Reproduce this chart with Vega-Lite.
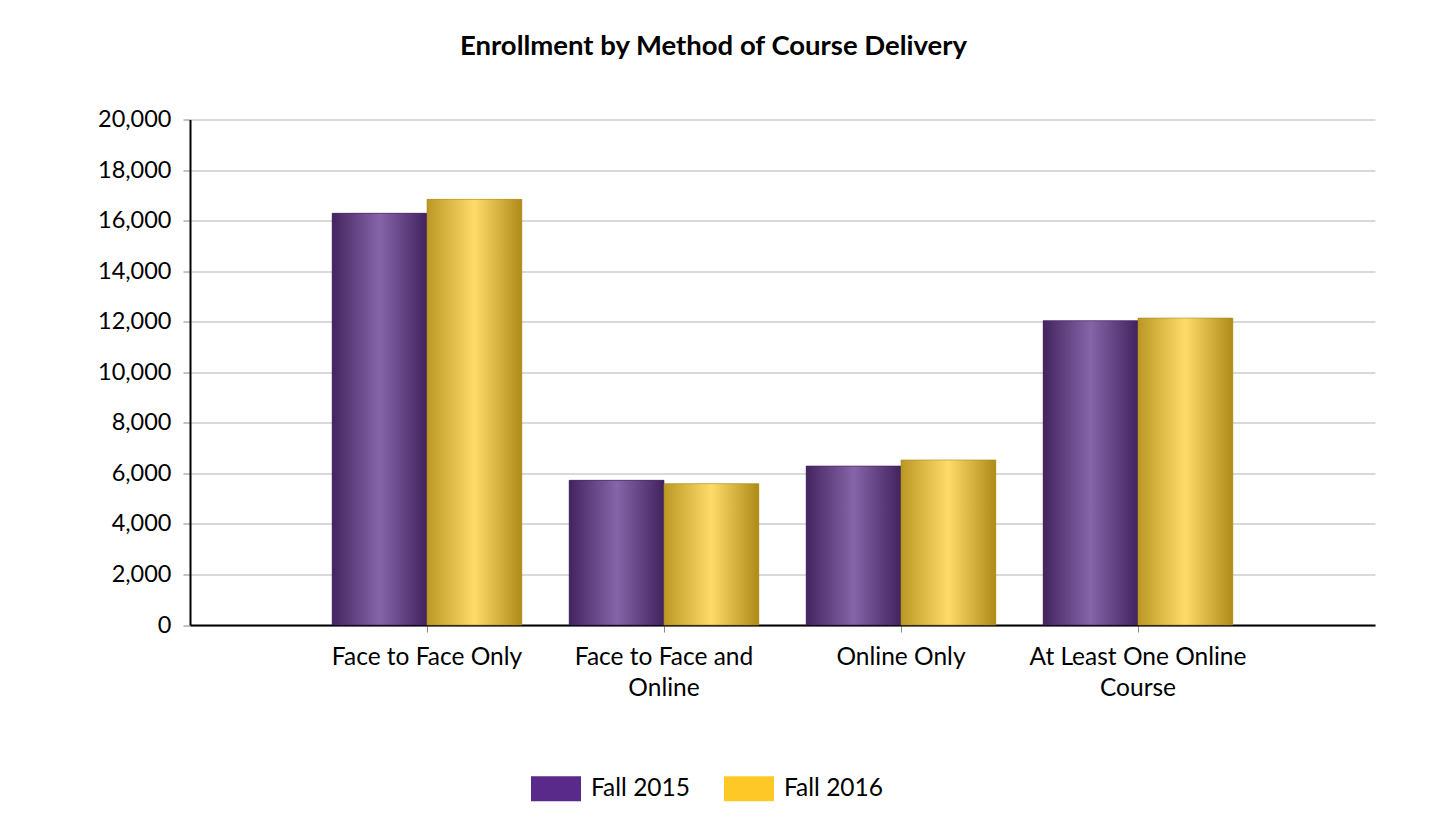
{
  "$schema": "https://vega.github.io/schema/vega-lite/v6.json",
  "width": 1185,
  "height": 505.5,
  "autosize": "none",
  "padding": {"left": 190, "top": 119.5, "right": 54, "bottom": 215},
  "background": "white",
  "title": {
    "text": "Enrollment by Method of Course Delivery",
    "font": "Lato",
    "fontSize": 27.5,
    "fontWeight": "bold",
    "color": "black",
    "anchor": "middle",
    "dx": -69,
    "offset": 47
  },
  "data": {
    "values": [
      {"category": "Face to Face Only", "term": "Fall 2015", "enrollment": 16290},
      {"category": "Face to Face Only", "term": "Fall 2016", "enrollment": 16840},
      {"category": "Face to Face and Online", "term": "Fall 2015", "enrollment": 5725},
      {"category": "Face to Face and Online", "term": "Fall 2016", "enrollment": 5590},
      {"category": "Online Only", "term": "Fall 2015", "enrollment": 6290},
      {"category": "Online Only", "term": "Fall 2016", "enrollment": 6530},
      {"category": "At Least One Online Course", "term": "Fall 2015", "enrollment": 12040},
      {"category": "At Least One Online Course", "term": "Fall 2016", "enrollment": 12145}
    ]
  },
  "encoding": {
    "x": {
      "field": "category",
      "type": "nominal",
      "sort": null,
      "title": null,
      "scale": {"paddingInner": 0, "paddingOuter": 0.5},
      "axis": {
        "labelAngle": 0,
        "labelFont": "Lato",
        "labelFontSize": 24.5,
        "labelColor": "black",
        "labelPadding": 13,
        "labelLimit": 400,
        "labelLineHeight": 31.5,
        "labelBaseline": "top",
        "labelExpr": "datum.label == 'Face to Face and Online' ? ['Face to Face and', 'Online'] : datum.label == 'At Least One Online Course' ? ['At Least One Online', 'Course'] : datum.label",
        "domainColor": "black",
        "domainWidth": 2,
        "tickColor": "#888888",
        "tickSize": 7,
        "tickWidth": 1,
        "grid": false
      }
    },
    "xOffset": {
      "field": "term",
      "type": "nominal",
      "scale": {"paddingInner": 0, "paddingOuter": 0.25}
    },
    "y": {
      "field": "enrollment",
      "type": "quantitative",
      "title": null,
      "scale": {"domain": [0, 20000], "nice": false},
      "axis": {
        "values": [0, 2000, 4000, 6000, 8000, 10000, 12000, 14000, 16000, 18000, 20000],
        "format": ",d",
        "labelFont": "Lato",
        "labelFontSize": 23.5,
        "labelColor": "black",
        "labelPadding": 12,
        "domainColor": "black",
        "domainWidth": 2,
        "tickColor": "#888888",
        "tickSize": 7,
        "tickWidth": 1,
        "gridColor": "#d9d9d9",
        "gridWidth": 2
      }
    }
  },
  "layer": [
    {
      "mark": {"type": "bar"},
      "encoding": {
        "color": {
          "field": "term",
          "type": "nominal",
          "scale": {"domain": ["Fall 2015", "Fall 2016"], "range": ["#5a2a8a", "#fec826"]},
          "legend": {
            "title": null,
            "orient": "none",
            "legendX": 341,
            "legendY": 644,
            "direction": "horizontal",
            "symbolType": "M-1,-0.5H1V0.5H-1Z",
            "symbolSize": 2500,
            "symbolStrokeWidth": 0,
            "labelFont": "Lato",
            "labelFontSize": 24.5,
            "labelColor": "black",
            "labelOffset": 10,
            "columnPadding": 34
          }
        }
      }
    },
    {
      "transform": [{"filter": "datum.term == 'Fall 2015'"}],
      "mark": {
        "type": "bar",
        "stroke": "#3f2060",
        "strokeWidth": 0.6,
        "fill": {
          "gradient": "linear",
          "x1": 0, "x2": 1, "y1": 0, "y2": 0,
          "stops": [
            {"offset": 0, "color": "#44245f"},
            {"offset": 0.5, "color": "#8565a8"},
            {"offset": 1, "color": "#42225e"}
          ]
        }
      }
    },
    {
      "transform": [{"filter": "datum.term == 'Fall 2016'"}],
      "mark": {
        "type": "bar",
        "stroke": "#a8891e",
        "strokeWidth": 0.6,
        "fill": {
          "gradient": "linear",
          "x1": 0, "x2": 1, "y1": 0, "y2": 0,
          "stops": [
            {"offset": 0, "color": "#bb9823"},
            {"offset": 0.5, "color": "#ffdc6a"},
            {"offset": 1, "color": "#ae8b18"}
          ]
        }
      }
    }
  ],
  "config": {"view": {"stroke": null}}
}
